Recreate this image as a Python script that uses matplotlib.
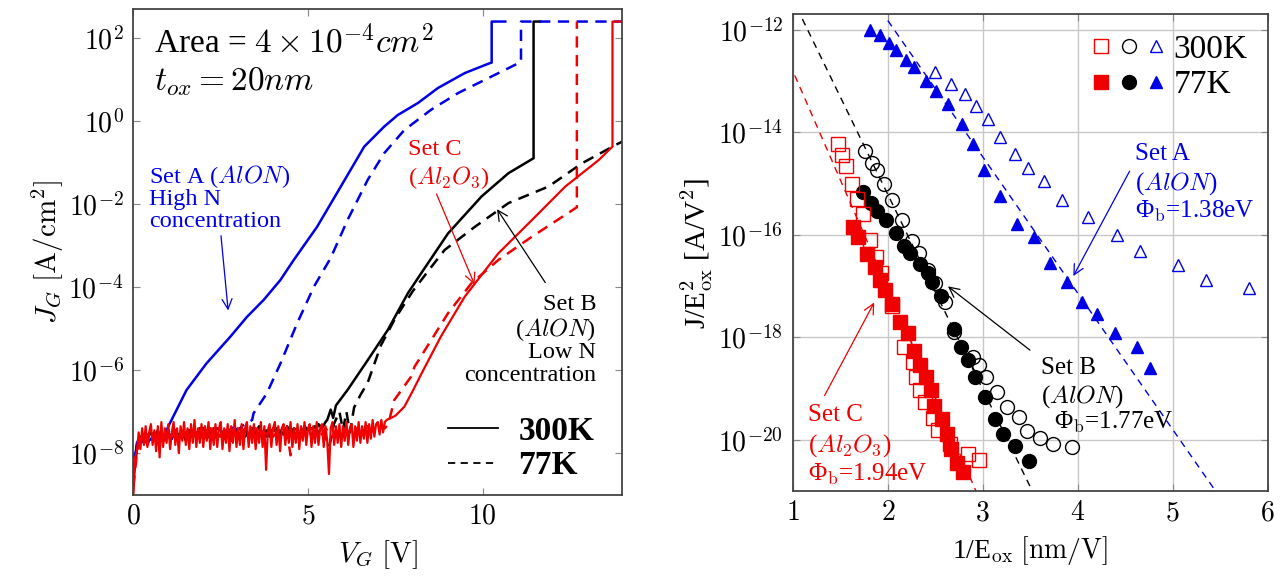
import numpy as np
import matplotlib
matplotlib.use("Agg")
import matplotlib.pyplot as plt
from matplotlib.lines import Line2D
from matplotlib.legend_handler import HandlerTuple
from matplotlib.ticker import FixedLocator, FuncFormatter, NullLocator

plt.rcParams['font.family'] = ['Liberation Serif', 'DejaVu Serif']
plt.rcParams['mathtext.fontset'] = 'cm'

# ---------------- left panel data: log10(J_G) vs V_G ----------------
# floor parts are sampled every `step` volts starting at 0 V, then the rising part follows

# Set A (AlON, high N)
a300_step = 0.1
a300_floor = [-8.1, -7.9, -7.75, -7.7, -7.75, -7.65, -7.7, -7.6, -7.65, -7.55]
a300_v = [0.99, 1.52, 2.09, 2.77, 3.25, 3.73, 4.21, 4.59, 5.26, 5.94, 6.61, 7.18, 7.57,
          8.15, 8.72, 9.49, 10.21, 10.26, 10.26, 10.65]
a300_j = [-7.37, -6.48, -5.84, -5.20, -4.72, -4.31, -3.83, -3.35, -2.55, -1.58, -0.62,
          -0.14, 0.14, 0.43, 0.79, 1.15, 1.39, 1.40, 2.39, 2.39]

a77_step = 0.1
a77_floor = [-8.4, -7.75, -7.6, -7.7, -7.55, -7.65, -7.6, -7.7, -7.55, -7.6,
             -7.5, -7.65, -7.55, -7.6, -7.5, -7.55, -7.45, -7.6, -7.5, -7.55,
             -7.4, -7.5, -7.45, -7.55, -7.4, -7.45, -7.35, -7.5, -7.4, -7.3,
             -7.45, -7.35, -7.3, -7.25, -7.2]
a77_v = [3.44, 3.82, 4.21, 4.69, 5.17, 5.65, 6.13, 6.71, 7.18, 7.76, 8.53, 9.30, 10.07,
         10.84, 11.1, 11.1, 14.0]
a77_j = [-7.04, -6.56, -5.84, -4.87, -3.99, -3.3, -2.39, -1.42, -0.78, -0.22, 0.27, 0.67,
         0.99, 1.31, 1.42, 2.39, 2.39]

# Set B (AlON, low N)
b300_step = 0.1
b300_floor = [-8.6, -7.9, -7.7, -7.55, -7.65, -7.5, -7.6, -7.45, -7.7, -7.55,
              -7.5, -7.65, -7.45, -7.6, -7.5, -7.7, -7.45, -7.55, -7.6, -7.4,
              -7.55, -7.5, -7.65, -7.4, -7.55, -7.6, -7.45, -7.5, -7.7, -7.4,
              -7.5, -7.55, -7.4, -7.6, -7.45, -7.5, -7.35, -7.55, -7.45, -7.6,
              -7.4, -7.5, -7.45, -7.55, -7.35, -7.5, -7.4, -7.45, -7.6, -7.35,
              -7.45, -7.4, -7.5, -7.3, -7.4, -7.25]
b300_v = [5.55, 5.65, 5.72, 5.8, 6.13, 6.71, 7.28, 7.86, 8.24, 9.01, 9.97, 10.74, 11.46,
          11.46, 11.65]
b300_j = [-7.2, -6.95, -7.15, -6.85, -6.48, -5.76, -5.04, -4.15, -3.67, -2.71, -1.82,
          -1.26, -0.90, 2.39, 2.39]

b77_step = 0.1
b77_floor = [-8.5, -7.8, -7.6, -7.7, -7.55, -7.6, -7.5, -7.65, -7.55, -7.6,
             -7.45, -7.6, -7.5, -7.55, -7.65, -7.5, -7.45, -7.6, -7.5, -7.55,
             -7.4, -7.6, -7.5, -7.45, -7.55, -7.5, -7.65, -7.45, -7.5, -7.4,
             -7.55, -7.45, -7.6, -7.5, -7.4, -7.55, -7.45, -7.5, -7.6, -7.45,
             -7.5, -7.4, -7.55, -7.45, -7.5, -7.4, -7.55, -7.45, -7.5, -7.4,
             -7.5, -7.45, -7.35, -7.5, -7.4, -7.6, -7.85, -7.5]
b77_v = [5.74, 5.9, 6.0, 6.1, 6.2, 6.32, 6.5, 6.71, 7.09, 7.5, 8.0, 8.5, 8.91, 9.78,
         10.74, 11.89, 12.85, 13.81, 14.0]
b77_j = [-7.3, -7.0, -7.45, -7.0, -7.5, -6.9, -6.6, -6.3, -5.4, -4.75, -4.1, -3.55,
         -3.11, -2.55, -1.98, -1.58, -1.02, -0.58, -0.5]

# Set C (Al2O3)
c300_step = 0.05
c300_floor = [-9.0, -8.1, -7.95, -7.5, -7.9, -7.4, -7.8, -7.35, -7.85, -7.5,
              -7.3, -7.8, -7.45, -7.95, -7.35, -8.1, -7.25, -7.85, -7.4, -7.75,
              -7.3, -7.9, -7.5, -7.25, -7.8, -7.4, -8.0, -7.35, -7.7, -7.25,
              -7.8, -7.4, -7.9, -7.3, -7.75, -7.2, -7.85, -7.4, -7.75, -7.3,
              -7.85, -7.35, -7.7, -7.25, -7.9, -7.4, -7.8, -7.3, -7.85, -7.4,
              -7.25, -7.9, -7.4, -7.75, -7.3, -7.95, -7.35, -7.75, -7.2, -7.85,
              -7.4, -7.8, -7.3, -7.9, -7.4, -7.25, -7.85, -7.35, -7.75, -7.3,
              -7.9, -7.4, -7.75, -7.25, -7.85, -7.35, -8.4, -7.45, -7.3, -7.85,
              -7.4, -7.25, -7.8, -7.35, -7.95, -7.4, -7.3, -7.8, -7.35, -7.75,
              -7.25, -7.85, -7.4, -7.75, -7.3, -7.9, -7.35, -7.7, -7.25, -7.8,
              -7.4, -7.3, -7.85, -7.35, -7.75, -7.25, -7.8, -7.4, -7.3, -7.85,
              -7.35, -7.7, -8.5, -7.4, -7.25, -7.8, -7.35, -7.75, -7.3, -7.85,
              -7.35, -7.7, -7.25, -7.8, -7.4, -7.3, -7.85, -7.35, -7.7, -7.25,
              -7.75, -7.35, -7.65, -7.25, -7.75, -7.3, -7.65, -7.2, -7.6, -7.3,
              -7.25, -7.55, -7.2, -7.5, -7.25, -7.2]
c300_v = [7.5, 7.76, 8.0, 8.24, 8.8, 9.49, 10.45, 11.41, 12.37, 13.33, 13.72, 13.72, 14.0]
c300_j = [-7.1, -6.88, -6.5, -6.1, -5.2, -4.23, -3.19, -2.39, -1.58, -0.94, -0.62, 2.39, 2.39]

c77_step = 0.1
c77_floor = [-8.8, -8.0, -7.7, -7.55, -7.8, -7.6, -7.5, -7.65, -7.55, -7.7,
             -7.5, -7.6, -7.45, -7.65, -7.55, -7.5, -7.7, -7.45, -7.6, -7.5,
             -7.55, -7.65, -7.4, -7.55, -7.5, -7.6, -7.45, -7.55, -7.65, -7.4,
             -7.5, -7.6, -7.45, -7.55, -7.5, -7.4, -7.6, -7.5, -7.55, -7.45,
             -7.6, -7.5, -7.4, -7.55, -7.5, -8.05, -7.5, -7.5, -7.45, -7.55,
             -7.4, -7.6, -7.5, -7.45, -7.55, -7.4, -7.5, -7.6, -7.45, -7.5,
             -7.4, -7.55, -7.45, -7.5, -7.4, -7.55, -7.45, -7.35, -7.5, -7.4,
             -7.45, -7.35, -7.4, -7.3]
c77_v = [7.47, 7.95, 8.05, 9.01, 9.68, 10.45, 11.41, 12.7, 12.7]
c77_j = [-6.72, -6.16, -5.92, -4.63, -3.91, -3.35, -2.79, -2.08, 2.39]

# ---------------- right panel data: log10(J/E^2) vs 1/E_ox ----------------
a77_x = [1.81, 1.92, 2.01, 2.09, 2.19, 2.28, 2.40, 2.51, 2.63, 2.78, 2.90, 3.01, 3.18,
         3.36, 3.54, 3.71, 3.89, 4.04, 4.20, 4.39, 4.62, 4.76]
a77_y = [-12.0, -12.11, -12.26, -12.40, -12.58, -12.73, -12.99, -13.19, -13.45, -13.83,
         -14.23, -14.73, -15.25, -15.78, -16.05, -16.55, -16.92, -17.30, -17.55, -17.91,
         -18.18, -18.59]
a300_x = [2.50, 2.67, 2.81, 2.93, 3.05, 3.18, 3.34, 3.48, 3.64, 3.83, 4.11, 4.41, 4.66,
          5.06, 5.35, 5.80]
a300_y = [-12.82, -13.06, -13.26, -13.49, -13.74, -14.09, -14.43, -14.69, -14.95, -15.31,
          -15.66, -16.01, -16.31, -16.59, -16.88, -17.03]

b300_x = [1.76, 1.83, 1.89, 1.96, 2.04, 2.15, 2.25, 2.33, 2.42, 2.50, 2.60, 2.70, 2.90,
          2.96, 3.03, 3.15, 3.26, 3.38, 3.47, 3.60, 3.74, 3.94]
b300_y = [-14.36, -14.60, -14.74, -15.01, -15.31, -15.71, -16.12, -16.36, -16.68, -16.94,
          -17.30, -17.89, -18.38, -18.54, -18.77, -19.07, -19.35, -19.56, -19.82, -19.96,
          -20.08, -20.13]
b77_x = [1.74, 1.82, 1.89, 1.98, 2.09, 2.17, 2.23, 2.34, 2.42, 2.47, 2.56, 2.70, 2.77,
         2.84, 2.92, 3.02, 3.13, 3.21, 3.34, 3.49]
b77_y = [-15.16, -15.38, -15.53, -15.71, -15.97, -16.22, -16.35, -16.57, -16.74, -16.92,
         -17.20, -17.84, -18.18, -18.44, -18.77, -19.16, -19.59, -19.88, -20.11, -20.41]

c300_x = [1.47, 1.52, 1.56, 1.62, 1.68, 1.74, 1.81, 1.88, 1.93, 2.04, 2.17, 2.26, 2.30,
          2.34, 2.39, 2.48, 2.53, 2.65, 2.84, 2.96]
c300_y = [-14.22, -14.45, -14.66, -15.00, -15.29, -15.60, -16.09, -16.43, -16.75, -17.39,
          -18.18, -18.48, -18.77, -19.03, -19.26, -19.57, -19.80, -20.08, -20.27, -20.39]
c77_x = [1.63, 1.69, 1.78, 1.86, 1.92, 1.97, 2.04, 2.13, 2.21, 2.28, 2.34, 2.40, 2.45,
         2.49, 2.57, 2.62, 2.67, 2.73, 2.79]
c77_y = [-15.84, -16.05, -16.38, -16.62, -16.87, -17.07, -17.35, -17.69, -17.92, -18.26,
         -18.54, -18.77, -19.03, -19.33, -19.59, -19.88, -20.18, -20.44, -20.63]

# FN fit lines (end points)
fitA_x, fitA_y = [2.00, 5.45], [-11.82, -20.99]
fitB_x, fitB_y = [1.10, 3.52], [-11.79, -20.99]
fitC_x, fitC_y = [1.02, 2.93], [-12.89, -21.0]

RED, BLUE, BLACK = '#f00000', '#0000e6', 'black'


def sweep(floor, st, v_rise, j_rise):
    v = list(st * np.arange(len(floor))) + v_rise
    j = floor + j_rise
    return np.array(v), 10.0 ** np.array(j)


def logfmt(v, pos):
    return r'$10^{%d}$' % int(round(np.log10(v)))


fig = plt.figure(figsize=(12.83, 5.78), dpi=100)
ax1 = fig.add_axes([0.104, 0.144, 0.381, 0.841])
ax2 = fig.add_axes([0.618, 0.150, 0.370, 0.825])

# ---------------- left panel ----------------
lw = 1.8
dash = (0, (4.5, 3))
ax1.plot(*sweep(b300_floor, b300_step, b300_v, b300_j), color=BLACK, lw=lw)
ax1.plot(*sweep(b77_floor, b77_step, b77_v, b77_j), color=BLACK, lw=lw, ls=dash)
ax1.plot(*sweep(a300_floor, a300_step, a300_v, a300_j), color=BLUE, lw=lw)
ax1.plot(*sweep(a77_floor, a77_step, a77_v, a77_j), color=BLUE, lw=lw, ls=dash)
ax1.plot(*sweep(c77_floor, c77_step, c77_v, c77_j), color=RED, lw=lw, ls=dash)
ax1.plot(*sweep(c300_floor, c300_step, c300_v, c300_j), color=RED, lw=1.6)

ax1.set_yscale('log')
ax1.set_xlim(0, 14)
ax1.set_ylim(1e-9, 10 ** 2.7)
ax1.yaxis.set_major_locator(FixedLocator([1e2, 1e0, 1e-2, 1e-4, 1e-6, 1e-8]))
ax1.yaxis.set_minor_locator(NullLocator())
ax1.yaxis.set_major_formatter(FuncFormatter(logfmt))
ax1.set_xticks([0, 5, 10])
ax1.xaxis.set_major_formatter(FuncFormatter(lambda v, p: r'$%d$' % v))
ax1.set_xlabel(r'$V_G\ [\mathrm{V}]$', fontsize=21, labelpad=6)
ax1.set_ylabel(r'$J_G\ [\mathrm{A/cm^2}]$', fontsize=21, labelpad=2)

ax1.text(0.6, 10 ** 1.9, r'Area = $4\times10^{-4}cm^2$', fontsize=24, va='center')
ax1.text(0.6, 10 ** 0.94, r'$t_{ox}=20nm$', fontsize=24, va='center')

fs_l = 17.5
for txt, y in [(r'Set A ($AlON$)', -1.35), ('High N', -1.90), ('concentration', -2.43)]:
    ax1.text(0.45, 10 ** y, txt, color=BLUE, fontsize=fs_l, va='center')
ax1.annotate('', xy=(2.72, 10 ** -4.63), xytext=(2.5, 10 ** -2.7),
             arrowprops=dict(arrowstyle='->', color=BLUE, lw=0.9, mutation_scale=18))

for txt, y in [('Set C', -0.70), (r'($Al_2O_3$)', -1.37)]:
    ax1.text(7.85, 10 ** y, txt, color=RED, fontsize=fs_l, va='center')
ax1.annotate('', xy=(9.8, 10 ** -4.0), xytext=(8.65, 10 ** -1.7),
             arrowprops=dict(arrowstyle='->', color=RED, lw=0.9, mutation_scale=18))

for txt, y in [('Set B', -4.43), (r'($AlON$)', -5.03), ('Low N', -5.58),
               ('concentration', -6.12)]:
    ax1.text(13.25, 10 ** y, txt, color=BLACK, fontsize=fs_l, va='center', ha='right')
ax1.annotate('', xy=(10.37, 10 ** -2.07), xytext=(11.84, 10 ** -3.95),
             arrowprops=dict(arrowstyle='->', color=BLACK, lw=0.9, mutation_scale=18))

ax1.legend([Line2D([], [], color=BLACK, lw=1.3),
            Line2D([], [], color=BLACK, lw=1.3, ls=(0, (4, 3)))],
           ['300K', '77K'], loc='lower right', frameon=False,
           prop=dict(family='Liberation Serif', weight='bold', size=24),
           handlelength=1.5, handletextpad=0.6, labelspacing=0.1,
           borderaxespad=0.0, bbox_to_anchor=(0.97, 0.0))

# ---------------- right panel ----------------
ax2.plot(fitA_x, 10.0 ** np.array(fitA_y), color=BLUE, lw=1.0, ls=(0, (5, 4)))
ax2.plot(fitB_x, 10.0 ** np.array(fitB_y), color=BLACK, lw=1.0, ls=(0, (5, 4)))
ax2.plot(fitC_x, 10.0 ** np.array(fitC_y), color=RED, lw=1.0, ls=(0, (5, 4)))

ms = 10
hA300, = ax2.plot(a300_x, 10.0 ** np.array(a300_y), '^', ms=8, mfc='none', mec=BLUE, mew=1.0, ls='none')
hA77, = ax2.plot(a77_x, 10.0 ** np.array(a77_y), '^', ms=9, color=BLUE, ls='none')
hB300, = ax2.plot(b300_x, 10.0 ** np.array(b300_y), 'o', ms=ms, mfc='none', mec=BLACK, mew=1.0, ls='none')
hB77, = ax2.plot(b77_x, 10.0 ** np.array(b77_y), 'o', ms=ms, color=BLACK, ls='none')
hC300, = ax2.plot(c300_x, 10.0 ** np.array(c300_y), 's', ms=ms, mfc='none', mec=RED, mew=1.0, ls='none')
hC77, = ax2.plot(c77_x, 10.0 ** np.array(c77_y), 's', ms=ms, color=RED, ls='none')

ax2.set_yscale('log')
ax2.set_xlim(1, 6)
ax2.set_ylim(1e-21, 10 ** -11.7)
ax2.yaxis.set_major_locator(FixedLocator([1e-12, 1e-14, 1e-16, 1e-18, 1e-20]))
ax2.yaxis.set_minor_locator(NullLocator())
ax2.yaxis.set_major_formatter(FuncFormatter(logfmt))
ax2.set_xticks([1, 2, 3, 4, 5, 6])
ax2.xaxis.set_major_formatter(FuncFormatter(lambda v, p: r'$%d$' % v))
ax2.grid(True, color='#c8c8c8', lw=1.0)
ax2.set_axisbelow(True)
ax2.set_xlabel(r'1/E$_\mathrm{ox}$ $[\mathrm{nm/V}]$', fontsize=20, labelpad=6)
ax2.set_ylabel(r'J/E$_\mathrm{ox}^2$ [A/V$^2$]', fontsize=21, labelpad=2)

fs_r = 18
for txt, y in [('Set A', -14.42), (r'($AlON$)', -14.99), (r'Φ$_\mathrm{b}$=1.38eV', -15.55)]:
    ax2.text(4.60, 10 ** y, txt, color=BLUE, fontsize=fs_r, va='center')
ax2.annotate('', xy=(3.94, 10 ** -16.85), xytext=(4.56, 10 ** -14.71),
             arrowprops=dict(arrowstyle='->', color=BLUE, lw=0.9, mutation_scale=18))

for txt, x, y in [('Set B', 3.61, -18.59), (r'($AlON$)', 3.61, -19.16),
                  (r'Φ$_\mathrm{b}$=1.77eV', 3.75, -19.65)]:
    ax2.text(x, 10 ** y, txt, color=BLACK, fontsize=fs_r, va='center')
ax2.annotate('', xy=(2.61, 10 ** -16.97), xytext=(3.52, 10 ** -18.28),
             arrowprops=dict(arrowstyle='->', color=BLACK, lw=0.9, mutation_scale=18))

for txt, y in [('Set C', -19.52), (r'($Al_2O_3$)', -20.11), (r'Φ$_\mathrm{b}$=1.94eV', -20.67)]:
    ax2.text(1.16, 10 ** y, txt, color=RED, fontsize=fs_r, va='center')
ax2.annotate('', xy=(1.87, 10 ** -17.27), xytext=(1.32, 10 ** -19.18),
             arrowprops=dict(arrowstyle='->', color=RED, lw=0.9, mutation_scale=18))

ax2.legend([(hC300, hB300, hA300), (hC77, hB77, hA77)], ['300K', '77K'],
           handler_map={tuple: HandlerTuple(ndivide=None, pad=0.0)},
           loc='upper right', frameon=False, fontsize=24, handlelength=2.5,
           handletextpad=0.1, labelspacing=0.15, borderaxespad=0.2)

for ax in (ax1, ax2):
    ax.tick_params(direction='in', which='both', top=True, right=True, length=5,
                   color='#888888', labelsize=20, pad=7)
    for s in ax.spines.values():
        s.set_color('#444444')
        s.set_linewidth(1.3)

fig.savefig('out.png', dpi=100)
